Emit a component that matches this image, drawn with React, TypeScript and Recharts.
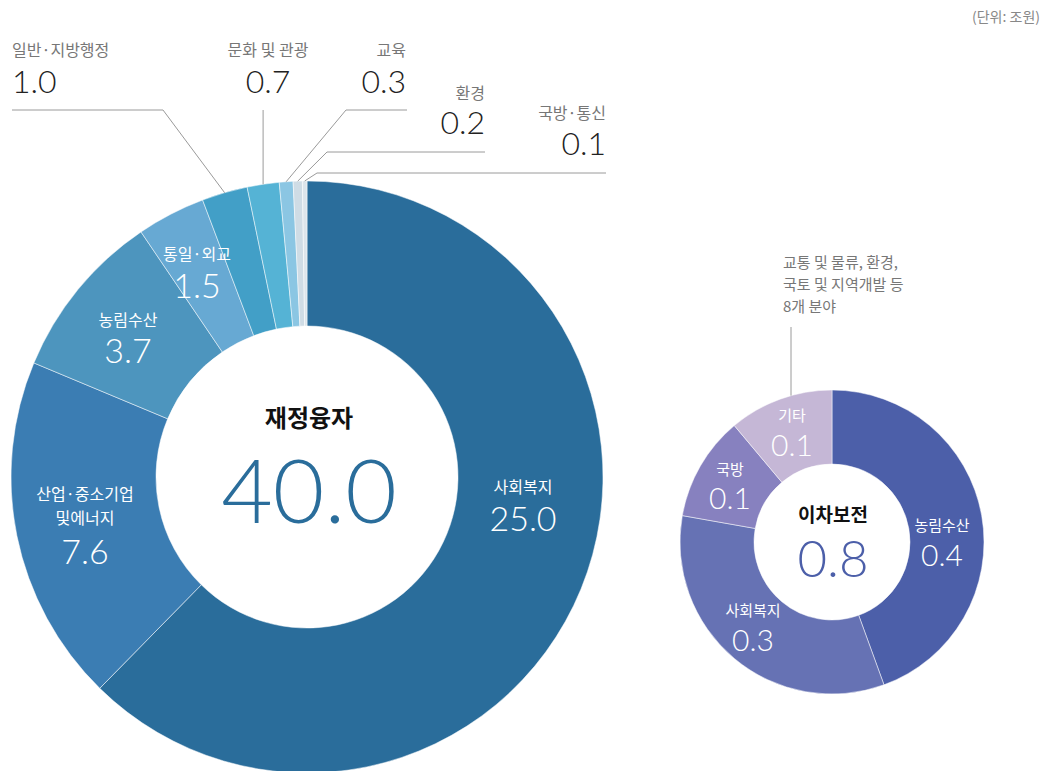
import { Cell, Pie, PieChart } from 'recharts'

// 재정융자 (단위: 조원)
const loanCategories = [
  '사회복지',
  '산업·중소기업\n및에너지',
  '농림수산',
  '통일·외교',
  '일반·지방행정',
  '문화 및 관광',
  '교육',
  '환경',
  '국방·통신',
]
const loanValues = [25.0, 7.6, 3.7, 1.5, 1.0, 0.7, 0.3, 0.2, 0.1]
const loanTotal = '40.0'

// 이차보전
const subsidyCategories = ['농림수산', '사회복지', '국방', '기타']
const subsidyValues = [0.4, 0.3, 0.1, 0.1]
const subsidyTotal = '0.8'
const subsidyNote = ['교통 및 물류, 환경,', '국토 및 지역개발 등', '8개 분야']

const loanColors = [
  '#2a6d9b', '#3b7db3', '#4d95be', '#67a9d3', '#429fc7',
  '#55b3d5', '#8bc6e3', '#cfdce5', '#dde5eb',
]
const subsidyColors = ['#4c5fa9', '#6672b4', '#8781bf', '#c5b7d6']

const KR = '"Noto Sans CJK KR", "Noto Sans", sans-serif'
const NUM = 'Lato, "Noto Sans", sans-serif'

const LEFT = { cx: 307, cy: 477, inner: 151, outer: 296 }
const RIGHT = { cx: 832, cy: 542, inner: 78, outer: 152 }

// label placement inside the donut: offset from centre, name baseline, value baseline
const loanInside: Record<number, { dx: number; name: number; value: number }> = {
  0: { dx: 216, name: 16, value: 54 },
  1: { dx: -222, name: 23, value: 87 },
  2: { dx: -179, name: -151, value: -114 },
  3: { dx: -110, name: -217, value: -179 },
}

// leader-line labels for the thin slices (page coords)
type Leader = { x: number; anchor: 'start' | 'middle' | 'end'; name: number; value: number; elbow?: [number, number]; end?: number; top?: number }
const loanLeaders: Record<number, Leader> = {
  4: { x: 12, anchor: 'start', name: 56, value: 93, elbow: [163, 110], end: 12 },
  5: { x: 268, anchor: 'middle', name: 56, value: 93, top: 110 },
  6: { x: 406, anchor: 'end', name: 56, value: 93, elbow: [346, 110], end: 407 },
  7: { x: 485, anchor: 'end', name: 99, value: 134, elbow: [327, 152], end: 485 },
  8: { x: 606, anchor: 'end', name: 119, value: 155, elbow: [317, 173], end: 606 },
}

const subsidyInside: Record<number, { dx: number; name: number; value: number }> = {
  0: { dx: 110, name: -11, value: 24 },
  1: { dx: -79, name: 74, value: 109 },
  2: { dx: -102, name: -67, value: -33 },
  3: { dx: -40, name: -121, value: -86 },
}

const RAD = Math.PI / 180

const loanData = loanCategories.map((name, i) => ({ name, value: loanValues[i] }))
const subsidyData = subsidyCategories.map((name, i) => ({ name, value: subsidyValues[i] }))

function LoanLabel(props: any) {
  const { cx, cy, midAngle, outerRadius, index } = props
  const item = loanData[index]
  const parts: any[] = []

  if (index === 0) {
    parts.push(
      <text key="ct" x={cx + 2} y={cy - 50} textAnchor="middle" fontFamily={KR} fontWeight={700} fontSize={24} fill="#111">
        재정융자
      </text>,
      <text key="cv" x={cx + 2} y={cy + 46} textAnchor="middle" fontFamily={NUM} fontWeight={300} fontSize={89} fill="#2a6d9b">
        {loanTotal}
      </text>,
    )
  }

  const inside = loanInside[index]
  if (inside) {
    const lines = item.name.split('\n')
    parts.push(
      ...lines.map((line, k) => (
        <text key={'n' + k} x={cx + inside.dx} y={cy + inside.name + k * 24} textAnchor="middle" fontFamily={KR} fontSize={16} fill="#fff">
          {line}
        </text>
      )),
      <text key="v" x={cx + inside.dx} y={cy + inside.value} textAnchor="middle" fontFamily={NUM} fontWeight={300} fontSize={34} fill="#fff">
        {item.value.toFixed(1)}
      </text>,
    )
  }

  const lead = loanLeaders[index]
  if (lead) {
    const sx = cx + outerRadius * Math.cos(-midAngle * RAD)
    const sy = cy + outerRadius * Math.sin(-midAngle * RAD)
    const pts = lead.elbow
      ? `${sx},${sy} ${lead.elbow[0]},${lead.elbow[1]} ${lead.end},${lead.elbow[1]}`
      : `${sx},${sy} ${sx},${lead.top}`
    parts.push(
      <polyline key="l" points={pts} fill="none" stroke="#9a9a9a" strokeWidth={1} />,
      <text key="n" x={lead.x} y={lead.name} textAnchor={lead.anchor} fontFamily={KR} fontSize={16} fill="#777">
        {item.name}
      </text>,
      <text key="v" x={lead.x} y={lead.value} textAnchor={lead.anchor} fontFamily={NUM} fontWeight={300} fontSize={32} fill="#222">
        {item.value.toFixed(1)}
      </text>,
    )
  }
  return <g>{parts}</g>
}

function SubsidyLabel(props: any) {
  const { cx, cy, outerRadius, index } = props
  const item = subsidyData[index]
  const pos = subsidyInside[index]
  const parts: any[] = []

  if (index === 0) {
    parts.push(
      <text key="ct" x={cx + 1} y={cy - 20} textAnchor="middle" fontFamily={KR} fontWeight={700} fontSize={19} fill="#111">
        이차보전
      </text>,
      <text key="cv" x={cx + 1} y={cy + 35} textAnchor="middle" fontFamily={NUM} fontWeight={300} fontSize={51} fill="#4c5fa9">
        {subsidyTotal}
      </text>,
    )
  }

  if (index === subsidyData.length - 1) {
    // note for 기타, vertical leader meeting the outer arc
    const lx = cx - 41
    const ly = cy - Math.sqrt(outerRadius * outerRadius - 41 * 41)
    parts.push(
      <line key="nl" x1={lx} y1={ly} x2={lx} y2={cy - 215} stroke="#9a9a9a" strokeWidth={1} />,
      ...subsidyNote.map((line, k) => (
        <text key={'note' + k} x={cx - 49} y={cy - 274 + k * 22} fontFamily={KR} fontSize={15} fill="#777">
          {line}
        </text>
      )),
    )
  }

  parts.push(
    <text key="n" x={cx + pos.dx} y={cy + pos.name} textAnchor="middle" fontFamily={KR} fontSize={15} fill="#fff">
      {item.name}
    </text>,
    <text key="v" x={cx + pos.dx} y={cy + pos.value} textAnchor="middle" fontFamily={NUM} fontWeight={300} fontSize={30} fill="#fff">
      {item.value.toFixed(1)}
    </text>,
  )
  return <g>{parts}</g>
}

export default function App() {
  return (
    <div style={{ position: 'absolute', left: 0, top: 0, width: 1049, height: 771, background: '#fff', overflow: 'hidden' }}>
      <div style={{ position: 'absolute', right: 9, top: 6, fontFamily: KR, fontSize: 14, color: '#888' }}>(단위: 조원)</div>
      <PieChart width={1049} height={771} margin={{ top: 0, right: 0, bottom: 0, left: 0 }}>
        <Pie
          data={loanData}
          dataKey="value"
          nameKey="name"
          cx={LEFT.cx}
          cy={LEFT.cy}
          innerRadius={LEFT.inner}
          outerRadius={LEFT.outer}
          startAngle={90}
          endAngle={-270}
          stroke="#ffffff"
          strokeWidth={0.5}
          label={LoanLabel}
          labelLine={false}
          isAnimationActive={false}
        >
          {loanData.map((d, i) => (
            <Cell key={d.name} fill={loanColors[i]} />
          ))}
        </Pie>
        <Pie
          data={subsidyData}
          dataKey="value"
          nameKey="name"
          cx={RIGHT.cx}
          cy={RIGHT.cy}
          innerRadius={RIGHT.inner}
          outerRadius={RIGHT.outer}
          startAngle={90}
          endAngle={-270}
          stroke="#ffffff"
          strokeWidth={0.5}
          label={SubsidyLabel}
          labelLine={false}
          isAnimationActive={false}
        >
          {subsidyData.map((d, i) => (
            <Cell key={d.name} fill={subsidyColors[i]} />
          ))}
        </Pie>
      </PieChart>
    </div>
  )
}
